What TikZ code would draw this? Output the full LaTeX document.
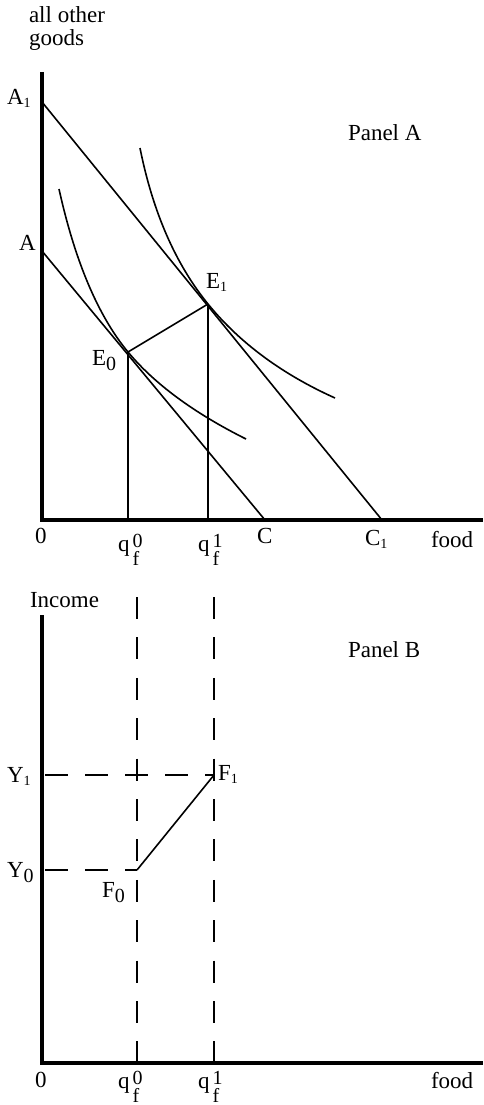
\documentclass[tikz,border=0pt]{standalone}
\usepackage{fontspec}
\setmainfont{Liberation Serif}
\newcommand{\subone}{\raisebox{-3pt}{\fontsize{14}{14}\selectfont 1}}
\newcommand{\subzero}{\raisebox{-5pt}{\fontsize{20}{20}\selectfont 0}}
\newcommand{\qlab}[1]{q\kern3pt\rlap{\raisebox{4pt}{\fontsize{20}{20}\selectfont #1}}\raisebox{-14pt}{\fontsize{20}{20}\selectfont f}}
\tikzset{
  axis/.style={line width=4pt, line join=miter},
  curve/.style={line width=1.6pt},
  guide/.style={line width=1.6pt, dash pattern=on 22pt off 18.4pt},
  lab/.style={anchor=base west, inner sep=0pt, outer sep=0pt, font=\fontsize{23}{27}\selectfont}
}
\begin{document}
\begin{tikzpicture}[x=1pt,y=-1pt]
\useasboundingbox (0,0) rectangle (483,1105);
% ---------- Panel A ----------
\coordinate (AyTop) at (42,72);
\coordinate (AO) at (42,520);
\coordinate (AxEnd) at (483,520);
\coordinate (A1) at (42,102);
\coordinate (A) at (42,251);
\coordinate (C) at (265,520);
\coordinate (C1) at (382,520);
\coordinate (E0) at (128,352);
\coordinate (E1) at (208,304);
\coordinate (q0A) at (128,520);
\coordinate (q1A) at (208,520);
\coordinate (I0s) at (59,189);
\coordinate (I0e) at (246,439);
\coordinate (I1s) at (140,148);
\coordinate (I1e) at (335,398);

\draw[axis] (AyTop) -- (AO) -- (AxEnd);
\draw[curve] (A1) -- (C1);
\draw[curve] (A) -- (C);
\draw[curve] (E0) -- (E1);
\draw[curve] (E0) -- (q0A);
\draw[curve] (E1) -- (q1A);
\draw[curve] (I0s) .. controls (75.1,261.6) and (98.1,315.9) .. (E0)
  .. controls (154.5,383.9) and (193.8,412.9) .. (I0e);
\draw[curve] (I1s) .. controls (152.8,212) and (175.5,264) .. (E1)
  .. controls (239.5,342.7) and (281.9,374.1) .. (I1e);

\node[lab] (tAog1) at (29,23) {all other};
\node[lab] (tAog2) at (29,46) {goods};
\node[lab] (tA1) at (7,105) {A\subone};
\node[lab] (tA) at (19,250) {A};
\node[lab] (tPA) at (348,140) {Panel A};
\node[lab] (tE1) at (206,288) {E\subone};
\node[lab] (tE0) at (92,365) {E\subzero};
\node[lab] (tOA) at (35,543) {0};
\node[lab] (tq0A) at (118,551) {\qlab{0}};
\node[lab] (tq1A) at (198,551) {\qlab{1}};
\node[lab] (tC) at (257,543) {C};
\node[lab] (tC1) at (365,545) {C\subone};
\node[lab] (tfoodA) at (431,547) {food};

% ---------- Panel B ----------
\coordinate (ByTop) at (42,615);
\coordinate (BO) at (42,1063);
\coordinate (BxEnd) at (483,1063);
\coordinate (Y1) at (42,775);
\coordinate (Y0) at (42,870);
\coordinate (F0) at (137,870);
\coordinate (F1) at (214,775);
\coordinate (v0top) at (137,597);
\coordinate (v0bot) at (137,1063);
\coordinate (v1top) at (214,597);
\coordinate (v1bot) at (214,1063);

\draw[axis] (ByTop) -- (BO) -- (BxEnd);
\draw[guide] (v0top) -- (v0bot);
\draw[guide] (v1top) -- (v1bot);
\draw[line width=1.6pt, dash pattern=on 23pt off 17pt, dash phase=-3pt] (Y1) -- (F1);
\draw[line width=1.6pt, dash pattern=on 23pt off 17pt, dash phase=-3pt] (Y0) -- (F0);
\draw[curve] (F0) -- (F1);

\node[lab] (tInc) at (30,607) {Income};
\node[lab] (tPB) at (348,657) {Panel B};
\node[lab] (tY1) at (7,782) {Y\subone};
\node[lab] (tY0) at (7,877) {Y\subzero};
\node[lab] (tF1) at (218,780) {F\subone};
\node[lab] (tF0) at (102,897) {F\subzero};
\node[lab] (tOB) at (35,1087) {0};
\node[lab] (tq0B) at (118,1088) {\qlab{0}};
\node[lab] (tq1B) at (198,1088) {\qlab{1}};
\node[lab] (tfoodB) at (431,1088) {food};
\end{tikzpicture}
\end{document}
